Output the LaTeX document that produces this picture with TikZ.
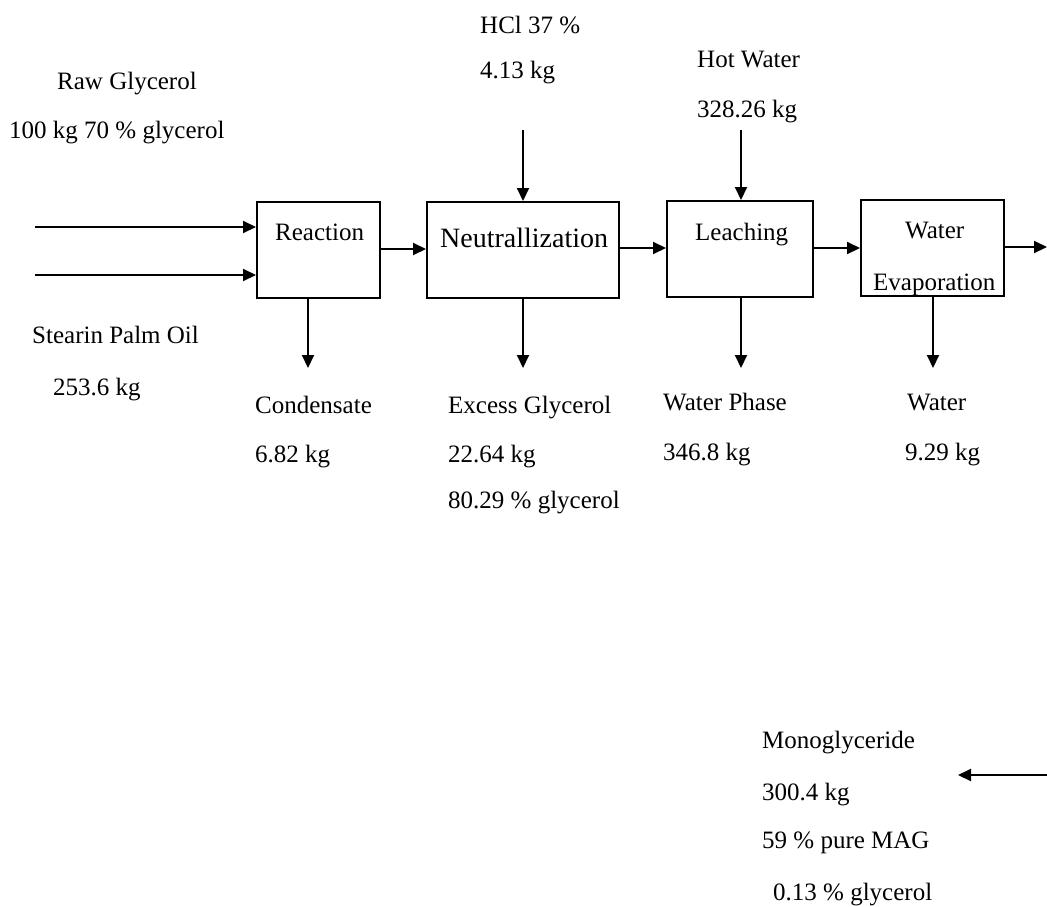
\documentclass[tikz,border=0pt]{standalone}
\usepackage{fontspec}
\setmainfont{Liberation Serif}
\usetikzlibrary{arrows.meta}
\begin{document}
\begin{tikzpicture}[x=1pt,y=-1pt,
  lbl/.style={anchor=base west,inner sep=0pt,font=\fontsize{25}{29}\selectfont},
  unit/.style={draw,line width=2pt,inner sep=0pt},
  flow/.style={line width=2pt,-{Triangle[length=13pt,width=12pt]}}]
\useasboundingbox (0,0) rectangle (1047,906);
% process boxes
\node[unit,minimum width=123pt,minimum height=96pt] (rx) at (318.5,250) {};
\node[unit,minimum width=192pt,minimum height=96pt] (nt) at (523,250) {};
\node[unit,minimum width=146pt,minimum height=96pt] (lc) at (740,249) {};
\node[unit,minimum width=143pt,minimum height=96pt] (we) at (932.5,248) {};
% box texts
\node[lbl] at (275,240) {Reaction};
\node[lbl,font=\fontsize{28}{32}\selectfont] at (440,247) {Neutrallization};
\node[lbl] at (695,240) {Leaching};
\node[lbl] at (905,238) {Water};
\node[lbl] at (873,290) {Evaporation};
% free ends
\coordinate (in1) at (35,227);
\coordinate (in2) at (35,275);
\coordinate (hcl) at (523,130);
\coordinate (hw) at (741,130);
\coordinate (d1) at (308,368);
\coordinate (d2) at (523,368);
\coordinate (d3) at (741,368);
\coordinate (d4) at (933,368);
\coordinate (out) at (1047,247);
\coordinate (mgs) at (1047,775);
\coordinate (mge) at (958,775);
% connectors
\draw[flow] (in1) -- (in1 -| rx.west);
\draw[flow] (in2) -- (in2 -| rx.west);
\draw[flow] (rx.east |- 0,249) -- (nt.west |- 0,249);
\draw[flow] (nt.east |- 0,248) -- (lc.west |- 0,248);
\draw[flow] (lc.east |- 0,248) -- (we.west |- 0,248);
\draw[flow] (we.east |- 0,247) -- (out);
\draw[flow] (hcl) -- (hcl |- nt.north);
\draw[flow] (hw) -- (hw |- lc.north);
\draw[flow] (d1 |- rx.south) -- (d1);
\draw[flow] (d2 |- nt.south) -- (d2);
\draw[flow] (d3 |- lc.south) -- (d3);
\draw[flow] (d4 |- we.south) -- (d4);
\draw[flow] (mgs) -- (mge);
% stream labels
\node[lbl] at (57,89) {Raw Glycerol};
\node[lbl] at (9,138) {100 kg 70 \% glycerol};
\node[lbl] at (32,343) {Stearin Palm Oil};
\node[lbl] at (53,395) {253.6 kg};
\node[lbl] at (480,33) {HCl 37 \%};
\node[lbl] at (480,78) {4.13 kg};
\node[lbl] at (697,67) {Hot Water};
\node[lbl] at (697,117) {328.26 kg};
\node[lbl] at (255,413) {Condensate};
\node[lbl] at (255,462) {6.82 kg};
\node[lbl] at (448,413) {Excess Glycerol};
\node[lbl] at (448,462) {22.64 kg};
\node[lbl] at (448,508) {80.29 \% glycerol};
\node[lbl] at (663,410) {Water Phase};
\node[lbl] at (663,460) {346.8 kg};
\node[lbl] at (907,410) {Water};
\node[lbl] at (905,460) {9.29 kg};
\node[lbl] at (762,748) {Monoglyceride};
\node[lbl] at (762,800) {300.4 kg};
\node[lbl] at (762,848) {59 \% pure MAG};
\node[lbl] at (773,900) {0.13 \% glycerol};
\end{tikzpicture}
\end{document}
